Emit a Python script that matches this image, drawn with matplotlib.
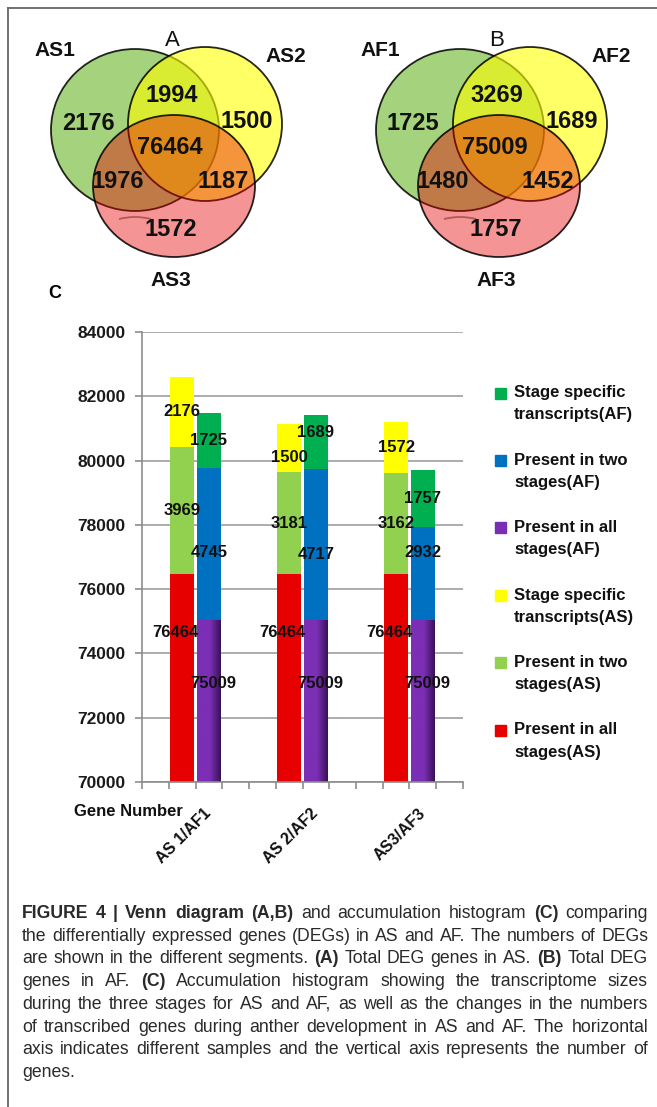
#%%
import numpy as np
import matplotlib.pyplot as plt
from matplotlib.patches import Ellipse, Rectangle, Arc
from matplotlib.transforms import blended_transform_factory
from matplotlib import font_manager

plt.rcParams['font.family'] = ['Liberation Sans', 'DejaVu Sans']

# %%
# data
venn_a_sets = ['AS1', 'AS2', 'AS3']
venn_b_sets = ['AF1', 'AF2', 'AF3']
# order: only 1, only 2, only 3, 1&2, 1&3, 2&3, all three
venn_a_counts = [2176, 1500, 1572, 1994, 1976, 1187, 76464]
venn_b_counts = [1725, 1689, 1757, 3269, 1480, 1452, 75009]

samples = ['AS 1/AF1', 'AS 2/AF2', 'AS3/AF3']
as_all = np.array([76464, 76464, 76464])
as_two = np.array([3969, 3181, 3162])
as_specific = np.array([2176, 1500, 1572])
af_all = np.array([75009, 75009, 75009])
af_two = np.array([4745, 4717, 2932])
af_specific = np.array([1725, 1689, 1757])

legend_labels = ['Stage specific\ntranscripts(AF)', 'Present in two\nstages(AF)',
                 'Present in all\nstages(AF)', 'Stage specific\ntranscripts(AS)',
                 'Present in two\nstages(AS)', 'Present in all\nstages(AS)']

caption = [
    [('FIGURE 4 | Venn diagram (A,B)', True), (' and accumulation histogram', False), (' (C)', True), (' comparing', False)],
    [('the differentially expressed genes (DEGs) in AS and AF. The numbers of DEGs', False)],
    [('are shown in the different segments.', False), (' (A)', True), (' Total DEG genes in AS.', False), (' (B)', True), (' Total DEG', False)],
    [('genes in AF.', False), (' (C)', True), (' Accumulation histogram showing the transcriptome sizes', False)],
    [('during the three stages for AS and AF, as well as the changes in the numbers', False)],
    [('of transcribed genes during anther development in AS and AF. The horizontal', False)],
    [('axis indicates different samples and the vertical axis represents the number of', False)],
    [('genes.', False)],
]

# colours
c_red = '#e60000'
c_lgreen = '#92d050'
c_yellow = '#ffff00'
c_blue = '#0070c0'
c_green = '#00b050'
c_purple = '#7a2eb4'

W, H = 657, 1107
fig = plt.figure(figsize=(W / 100, H / 100), dpi=100)

# overlay axes in pixel coordinates
ov = fig.add_axes([0, 0, 1, 1])
ov.set_xlim(0, W)
ov.set_ylim(H, 0)
ov.axis('off')

# frame
ov.plot([8, 8], [8, H], color='#666666', lw=1.3)
ov.plot([8, W], [8, 8], color='#666666', lw=1.3)

# %%
# venn diagrams
def venn(x0, counts, sets, letter):
    circles = [((135, 130), 168, 162, (105/255, 180/255, 38/255, 0.6)),
               ((205, 124), 154, 154, (1, 1, 0, 0.6)),
               ((174, 186), 162, 142, (0.9, 0, 0, 0.42))]
    for (cx, cy), w, h, fc in circles:
        ov.add_patch(Ellipse((x0 + cx, cy), w, h, facecolor=fc,
                             edgecolor=(0, 0, 0, 0.85), lw=1.3))
    # faint artefact arc in the lower circle
    ov.add_patch(Arc((x0 + 135, 242), 80, 50, theta1=235, theta2=305,
                     color=(0.45, 0.1, 0.1, 0.5), lw=1.3))
    spots = [(88, 123), (247, 121), (171, 230), (172, 95),
             (118, 182), (223, 182), (170, 147)]
    for (px, py), n in zip(spots, counts):
        ov.text(x0 + px, py, str(n), ha='center', va='center',
                fontsize=17, fontweight='bold', color='#111111')
    for (px, py), s in zip([(55, 51), (286, 57), (171, 280)], sets):
        ov.text(x0 + px, py, s, ha='center', va='center',
                fontsize=15, fontweight='bold', color='#111111')
    ov.text(x0 + 172, 40, letter, ha='center', va='center', fontsize=16,
            color='#111111')

venn(0, venn_a_counts, venn_a_sets, 'A')
venn(325, venn_b_counts, venn_b_sets, 'B')

# %%
# accumulation histogram
ov.text(55, 294, 'C', ha='center', va='center', fontsize=13, fontweight='bold')

ax = fig.add_axes([142 / W, 1 - 782 / H, 321 / W, 450 / H])
ax.set_facecolor('none')
ymin, ymax = 70000, 84000

as_x = np.array([1, 5, 9])
af_x = as_x + 1
bw = 0.88

ax.bar(as_x, as_all, bw, color=c_red, zorder=2)
ax.bar(as_x, as_two, bw, bottom=as_all, color=c_lgreen, zorder=2)
ax.bar(as_x, as_specific, bw, bottom=as_all + as_two, color=c_yellow, zorder=2)
pbars = ax.bar(af_x, af_all, bw, color=c_purple, zorder=2)
ax.bar(af_x, af_two, bw, bottom=af_all, color=c_blue, zorder=2)
ax.bar(af_x, af_specific, bw, bottom=af_all + af_two, color=c_green, zorder=2)

# shading on purple bars
t = np.linspace(0, 1, 60)
shade = np.clip((t - 0.55) / 0.45, 0, 1)[:, None]
base = np.array([123, 47, 181]) / 255
dark = np.array([55, 18, 85]) / 255
grad = (base * (1 - shade) + dark * shade)[None, :, :]
for b in pbars:
    x0 = b.get_x()
    ax.imshow(grad, extent=[x0, x0 + b.get_width(), ymin, b.get_height()],
              aspect='auto', zorder=2.5, interpolation='bilinear')

ax.set_xlim(-0.5, 11.5)
ax.set_ylim(ymin, ymax)

# label nudges (Excel moved a few labels to avoid collisions)
nudge_as_spec = [0, -310, 0]
nudge_af_two = [-250, -300, 680]
nudge_af_spec = [0, 290, 0]

lab = dict(ha='center', va='center', fontsize=12, fontweight='bold', color='#111111', zorder=4)
for i in range(3):
    ax.text(as_x[i] - 0.25, as_all[i] - 1800, str(as_all[i]), **lab)
    ax.text(as_x[i], as_all[i] + as_two[i] / 2, str(as_two[i]), **lab)
    ax.text(as_x[i], as_all[i] + as_two[i] + as_specific[i] / 2 + nudge_as_spec[i],
            str(as_specific[i]), **lab)
    ax.text(af_x[i] + 0.15, af_all[i] - 1950, str(af_all[i]), **lab)
    ax.text(af_x[i], af_all[i] + af_two[i] / 2 + nudge_af_two[i], str(af_two[i]), **lab)
    ax.text(af_x[i], af_all[i] + af_two[i] + af_specific[i] / 2 + nudge_af_spec[i],
            str(af_specific[i]), **lab)

ax.set_yticks(np.arange(ymin, ymax + 1, 2000))
ax.set_xticks(np.arange(-0.5, 12, 1))
ax.set_xticklabels([])
for tl in ax.get_yticklabels():
    tl.set_fontweight('bold')
ax.tick_params(axis='y', length=5, width=1.2, color='#8c8c8c', labelsize=12.5,
               labelcolor='#1a1a1a', pad=7)
ax.tick_params(axis='x', length=5, width=1.2, color='#8c8c8c')
ax.yaxis.grid(True, color='#a6a6a6', lw=1.3, zorder=0)
ax.set_axisbelow(True)
for s in ['top', 'right']:
    ax.spines[s].set_visible(False)
for s in ['left', 'bottom']:
    ax.spines[s].set_color('#8c8c8c')
    ax.spines[s].set_linewidth(1.2)

tr = blended_transform_factory(ax.transData, ax.transAxes)
for i, s in enumerate(samples):
    ax.text(as_x[i] + 0.8, -0.052, s, transform=tr, rotation=45, ha='right',
            va='top', rotation_mode='anchor', fontsize=11.5, fontweight='bold',
            color='#111111')

ov.text(74, 812, 'Gene Number', ha='left', va='center', fontsize=12,
        fontweight='bold', color='#111111')

# legend drawn by hand, Excel style
leg_colors = [c_green, c_blue, c_purple, c_yellow, c_lgreen, c_red]
for k, (c, l) in enumerate(zip(leg_colors, legend_labels)):
    y = 393 + 67.4 * k
    ov.add_patch(Rectangle((495, y - 5.5), 11, 11, color=c))
    for j, line in enumerate(l.split('\n')):
        ov.text(514, y + 22 * j, line, ha='left', va='center', fontsize=12,
                fontweight='bold', color='#111111')

# %%
# caption, justified
names = {f.name for f in font_manager.fontManager.ttflist}
cap_font = ['Liberation Sans Narrow'] if 'Liberation Sans Narrow' in names else ['Liberation Sans']
left, right = 22, 648
r = fig.canvas.get_renderer()

def words_of(line):
    out = []
    for seg, bold in line:
        for w in seg.split(' '):
            if w:
                out.append((w, bold))
    return out

def width(w, bold, fs):
    tx = ov.text(0, 0, w, fontsize=fs, family=cap_font,
                 fontweight='bold' if bold else 'normal')
    e = tx.get_window_extent(renderer=r).width
    tx.remove()
    return e

fs0 = 10
sp = width('a a', False, fs0) - 2 * width('a', False, fs0)
natural = []
for line in caption:
    ws = words_of(line)
    natural.append(sum(width(w, b, fs0) for w, b in ws) + sp * (len(ws) - 1))
fs = min(fs0 * (right - left) * 0.99 / max(natural), 13.5)
sp = sp * fs / fs0

for k, line in enumerate(caption):
    ws = words_of(line)
    wd = [width(w, b, fs) for w, b in ws]
    y = 918 + 22.7 * k
    if k < len(caption) - 1:
        gap = (right - left - sum(wd)) / (len(ws) - 1)
    else:
        gap = sp
    x = left
    for (w, b), d in zip(ws, wd):
        ov.text(x, y, w, fontsize=fs, family=cap_font,
                fontweight='bold' if b else 'normal',
                color='#2a2a2a', ha='left', va='baseline')
        x += d + gap

fig.savefig('out.png', dpi=100)
